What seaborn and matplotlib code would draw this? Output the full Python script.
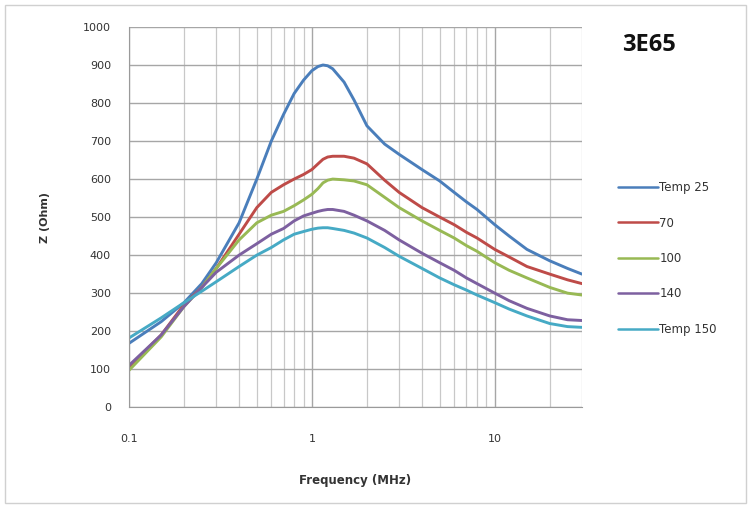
import matplotlib
matplotlib.use("Agg")
import matplotlib.pyplot as plt
import seaborn as sns
import pandas as pd
from matplotlib.patches import Rectangle
from matplotlib.ticker import FixedLocator, LogLocator, NullFormatter

# frequency points (MHz)
freq = [0.1, 0.15, 0.2, 0.25, 0.3, 0.4, 0.5, 0.6, 0.7, 0.8, 0.9, 1.0, 1.08, 1.15, 1.22, 1.3,
        1.5, 1.7, 2, 2.5, 3, 4, 5, 6, 7, 8, 10, 12, 15, 20, 25, 30]

z_25 = [168, 225, 275, 325, 380, 485, 600, 700, 770, 825, 860, 885, 896, 900, 898, 890,
        855, 808, 740, 692, 665, 625, 595, 565, 540, 520, 480, 450, 415, 385, 365, 350]
z_70 = [105, 190, 270, 315, 365, 455, 525, 565, 585, 600, 612, 625, 640, 652, 658, 660,
        660, 655, 640, 597, 565, 525, 500, 480, 460, 445, 415, 395, 370, 350, 335, 325]
z_100 = [97, 185, 265, 315, 365, 440, 485, 505, 515, 530, 545, 560, 575, 590, 597, 600,
         598, 595, 585, 552, 525, 490, 465, 445, 425, 410, 380, 360, 340, 315, 300, 295]
z_140 = [110, 190, 265, 315, 355, 400, 430, 455, 470, 490, 503, 510, 515, 518, 520, 520,
         515, 505, 490, 465, 440, 405, 380, 360, 340, 325, 300, 280, 260, 240, 230, 228]
z_150 = [182, 235, 275, 305, 330, 370, 400, 420, 440, 455, 462, 468, 471, 472, 472, 470,
         465, 458, 445, 420, 397, 365, 340, 322, 308, 295, 275, 258, 240, 220, 212, 210]

series_names = ["Temp 25", "70", "100", "140", "Temp 150"]
series_values = [z_25, z_70, z_100, z_140, z_150]
colors = ["#4a7ebb", "#be4b48", "#98b954", "#7d60a0", "#46aac5"]

y_ticks = list(range(0, 1001, 100))
x_ticks = [0.1, 1, 10]
x_labels = ["0.1", "1", "10"]

rows = []
for name, vals in zip(series_names, series_values):
    for f, z in zip(freq, vals):
        rows.append({"Frequency": f, "Z": z, "Series": name})
df = pd.DataFrame(rows)

sns.set_style("white")
plt.rcParams["font.family"] = ["DejaVu Sans"]

fig = plt.figure(figsize=(7.5, 5.09), dpi=100)
ax = fig.add_axes([0.172, 0.200, 0.604, 0.747])

sns.lineplot(data=df, x="Frequency", y="Z", hue="Series", hue_order=series_names,
             palette=colors, linewidth=2.1, ax=ax, legend=True)

ax.set_xscale("log")
ax.set_xlim(0.1, 30)
ax.set_ylim(0, 1000)
ax.yaxis.set_major_locator(FixedLocator(y_ticks))
ax.xaxis.set_major_locator(FixedLocator(x_ticks))
ax.set_xticklabels(x_labels)
ax.xaxis.set_minor_locator(LogLocator(base=10, subs=range(2, 10)))
ax.xaxis.set_minor_formatter(NullFormatter())

ax.grid(True, which="major", axis="both", color="#a6a6a6", linewidth=1.0)
ax.grid(True, which="minor", axis="x", color="#c8c8c8", linewidth=0.9)
ax.set_axisbelow(True)

for s in ["top", "right"]:
    ax.spines[s].set_visible(False)
for s in ["left", "bottom"]:
    ax.spines[s].set_color("#9a9a9a")

ax.tick_params(axis="both", which="major", labelsize=8, colors="#333333", length=3)
ax.tick_params(axis="x", which="minor", length=2, color="#9a9a9a")
ax.tick_params(axis="x", pad=16)
ax.tick_params(axis="y", pad=10)

ax.set_xlabel("Frequency (MHz)", fontsize=8.5, fontweight="bold", color="#333333", labelpad=22)
ax.set_ylabel("Z (Ohm)", fontsize=8, fontweight="bold", color="#333333", labelpad=24)

leg = ax.legend(loc="upper left", bbox_to_anchor=(0.81, 0.665), bbox_transform=fig.transFigure,
                frameon=False, fontsize=8.5, handlelength=3.4, handletextpad=0.1,
                labelspacing=1.9)
for line in leg.get_lines():
    line.set_linewidth(1.8)
for t in leg.get_texts():
    t.set_color("#333333")

fig.text(0.829, 0.912, "3E65", fontsize=17, fontweight="bold", color="#111111",
         va="center", family=["Open Sans", "DejaVu Sans"])

fig.patches.append(Rectangle((0.006, 0.012), 0.988, 0.978, transform=fig.transFigure,
                             fill=False, edgecolor="#d0d0d0", linewidth=1.0))

fig.savefig("out.png", dpi=100)
plt.close(fig)
